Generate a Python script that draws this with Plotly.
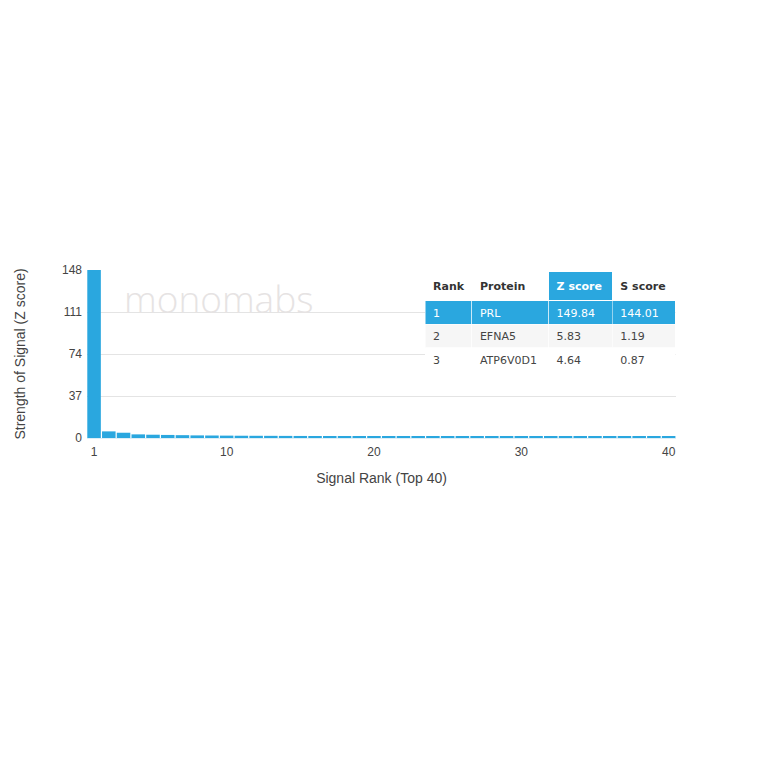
import plotly.graph_objects as go

ranks = list(range(1, 41))
z_scores = [149.84, 5.83, 4.64, 3.2, 2.9, 2.7, 2.5, 2.3, 2.2, 2.1,
            2.0, 1.95, 1.9, 1.85, 1.8, 1.75, 1.7, 1.65, 1.6, 1.55,
            1.5, 1.5, 1.45, 1.45, 1.4, 1.4, 1.35, 1.35, 1.3, 1.3,
            1.25, 1.25, 1.2, 1.2, 1.2, 1.15, 1.15, 1.1, 1.1, 1.1]

y_ticks = [0, 37, 74, 111, 148]
x_ticks = [1, 10, 20, 30, 40]

tbl_rank = ["1", "2", "3"]
tbl_protein = ["PRL", "EFNA5", "ATP6V0D1"]
tbl_z = ["149.84", "5.83", "4.64"]
tbl_s = ["144.01", "1.19", "0.87"]
tbl_headers = ["Rank", "Protein", "Z score", "S score"]

BLUE = "#2aa7df"
GREY = "#444444"

fig = go.Figure()
fig.add_trace(go.Bar(x=ranks, y=z_scores, marker_color=BLUE, marker_line_width=0,
                     width=0.92, showlegend=False))

row_fill = [BLUE, "#f6f6f6", "white"]
row_font = ["white", GREY, GREY]
fig.add_trace(go.Table(
    domain=dict(x=[0.574, 1.0], y=[0.40, 0.99]),
    columnwidth=[47, 77, 64, 63],
    header=dict(values=["<b>%s</b>" % h.replace(" ", "\u00a0") for h in tbl_headers],
                fill_color=["white", "white", BLUE, "white"],
                font=dict(family="DejaVu Sans", size=11, color=["#333", "#333", "white", "#333"]),
                line_color="white", align="left", height=26),
    cells=dict(values=[tbl_rank, tbl_protein, tbl_z, tbl_s],
               fill_color=[row_fill] * 4,
               font=dict(family="DejaVu Sans", size=11, color=[row_font] * 4),
               line_color="white", line_width=0.5, align="left", height=23.5),
))

fig.add_annotation(text="monomabs", xref="paper", yref="paper", x=0.223, y=0.83,
                   xanchor="center", yanchor="middle",
                   showarrow=False, font=dict(family="Open Sans", size=37, color="#e6e3e3", weight=300))

fig.update_layout(
    width=764, height=764,
    margin=dict(l=79, r=96, t=262, b=334),
    plot_bgcolor="white", paper_bgcolor="white",
    font=dict(family="Liberation Sans", size=12, color=GREY),
)
fig.update_xaxes(range=[0.52, 40.5], tickvals=x_ticks, showgrid=False, zeroline=False,
                 showline=True, linecolor="#dceef7", ticks="", ticklabelstandoff=3,
                 title=dict(text="Signal Rank (Top 40)", standoff=14),
                 tickfont=dict(size=12))
fig.update_yaxes(range=[0, 148], tickvals=y_ticks, showgrid=True, gridcolor="#e4e4e4",
                 zeroline=False, ticks="", ticklabelstandoff=4,
                 title=dict(text="Strength of Signal (Z score)", standoff=33),
                 tickfont=dict(size=12))

fig.write_html("out.html")
